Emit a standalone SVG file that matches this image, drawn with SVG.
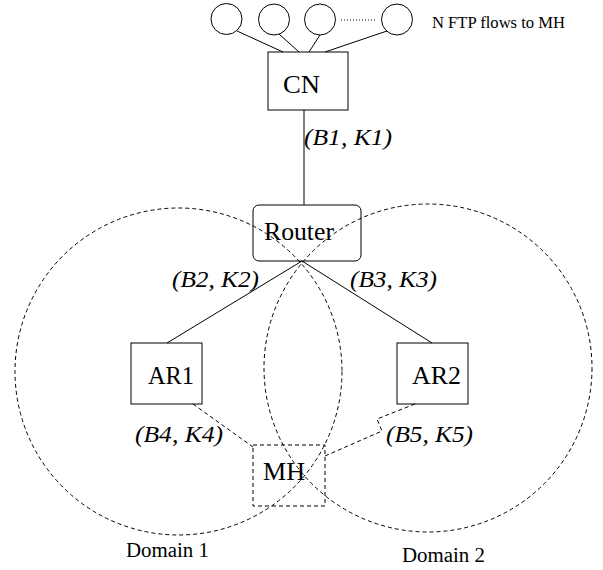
<svg xmlns="http://www.w3.org/2000/svg" width="603" height="570" viewBox="0 0 603 570">
  <style>
    .bg { fill: #ffffff; }
    .box { fill: none; stroke: #000; stroke-width: 1; }
    .dbox { fill: none; stroke: #000; stroke-width: 1; stroke-dasharray: 4 3; }
    .link { fill: none; stroke: #000; stroke-width: 1; }
    .dlink { fill: none; stroke: #000; stroke-width: 1; stroke-dasharray: 4 3; }
    .domain { fill: none; stroke: #000; stroke-width: 1; stroke-dasharray: 4 3; }
    .lbl { font-family: "Liberation Serif", "Times New Roman", serif; font-size: 26px; fill: #000; }
    .lab { font-family: "Liberation Serif", "Times New Roman", serif; font-size: 24px; font-style: italic; fill: #000; }
    .note { font-family: "Liberation Serif", "Times New Roman", serif; font-size: 17px; fill: #000; }
    .dom { font-family: "Liberation Serif", "Times New Roman", serif; font-size: 20px; fill: #000; }
  </style>
  <rect class="bg" x="0" y="0" width="603" height="570"/>

  <!-- domain coverage areas -->
  <g id="domains">
    <circle class="domain" cx="178.5" cy="371.5" r="163.5"/>
    <circle class="domain" cx="428" cy="368" r="164"/>
  </g>

  <!-- connectors -->
  <g id="connectors">
    <line class="link" x1="237" y1="31" x2="283" y2="52"/>
    <line class="link" x1="279" y1="34" x2="299" y2="52"/>
    <line class="link" x1="320" y1="35" x2="309" y2="52"/>
    <line class="link" x1="387" y1="31" x2="325" y2="52"/>
    <line class="link" x1="304" y1="110" x2="304" y2="205"/>
    <line class="link" x1="302" y1="261" x2="167" y2="343"/>
    <line class="link" x1="302" y1="261" x2="432" y2="343"/>
    <line class="dlink" x1="193" y1="404" x2="253" y2="447"/>
    <polyline class="dlink" points="415,404 377,419 382,431 325,456"/>
  </g>

  <!-- FTP flow sources -->
  <g id="flows">
    <circle class="box" cx="226.5" cy="19" r="15.5"/>
    <circle class="box" cx="274" cy="19.5" r="15.5"/>
    <circle class="box" cx="320" cy="19.5" r="15.5"/>
    <circle class="box" cx="397" cy="19.5" r="15.5"/>
    <line class="link" x1="341" y1="20" x2="375" y2="20" stroke-dasharray="1 2"/>
    <text class="note" x="432" y="28" textLength="133" lengthAdjust="spacingAndGlyphs">N FTP flows to MH</text>
  </g>

  <g id="cn">
    <rect class="box" x="268" y="52" width="80" height="58"/>
    <text class="lbl" x="283" y="93" textLength="37" lengthAdjust="spacingAndGlyphs">CN</text>
  </g>

  <g id="router">
    <rect class="box" x="253" y="205" width="108" height="56" rx="6"/>
    <text class="lbl" x="264" y="240" textLength="70" lengthAdjust="spacingAndGlyphs">Router</text>
  </g>

  <g id="ar1">
    <rect class="box" x="131" y="343" width="71" height="61"/>
    <text class="lbl" x="148" y="384" textLength="46" lengthAdjust="spacingAndGlyphs">AR1</text>
  </g>

  <g id="ar2">
    <rect class="box" x="397" y="343" width="71" height="61"/>
    <text class="lbl" x="412" y="384" textLength="49" lengthAdjust="spacingAndGlyphs">AR2</text>
  </g>

  <g id="mh">
    <rect class="dbox" x="253" y="445" width="72" height="61"/>
    <text class="lbl" x="263" y="480" textLength="42" lengthAdjust="spacingAndGlyphs">MH</text>
  </g>

  <!-- link parameters -->
  <g id="link-labels">
    <text class="lab" x="304" y="145" textLength="88" lengthAdjust="spacingAndGlyphs">(B1, K1)</text>
    <text class="lab" x="172" y="287" textLength="87" lengthAdjust="spacingAndGlyphs">(B2, K2)</text>
    <text class="lab" x="350" y="287" textLength="87" lengthAdjust="spacingAndGlyphs">(B3, K3)</text>
    <text class="lab" x="135" y="442" textLength="88" lengthAdjust="spacingAndGlyphs">(B4, K4)</text>
    <text class="lab" x="386" y="442" textLength="87" lengthAdjust="spacingAndGlyphs">(B5, K5)</text>
  </g>

  <g id="domain-labels">
    <text class="dom" x="126" y="557" textLength="83" lengthAdjust="spacingAndGlyphs">Domain 1</text>
    <text class="dom" x="402" y="562" textLength="83" lengthAdjust="spacingAndGlyphs">Domain 2</text>
  </g>
</svg>
